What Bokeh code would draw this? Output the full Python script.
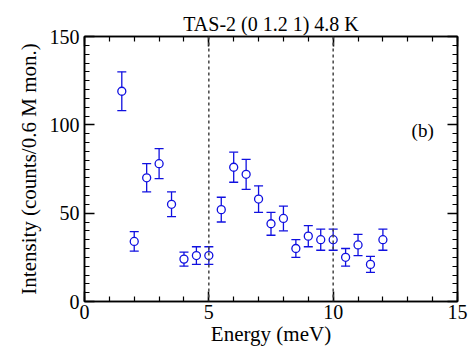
from bokeh.plotting import figure
from bokeh.models import (ColumnDataSource, Whisker, TeeHead, Span, Label,
                          LinearAxis, FixedTicker, Range1d)
from bokeh.embed import file_html
from bokeh.resources import INLINE

energy = [1.5, 2.0, 2.5, 3.0, 3.5, 4.0, 4.5, 5.0, 5.5, 6.0, 6.5, 7.0, 7.5,
          8.0, 8.5, 9.0, 9.5, 10.0, 10.5, 11.0, 11.5, 12.0]
intensity = [119, 34, 70, 78, 55, 24, 26, 26, 52, 76, 72, 58, 44,
             47, 30, 37, 35, 35, 25, 32, 21, 35]
error = [11, 5.5, 8, 8.5, 7, 4, 5, 5, 7, 8.5, 8.5, 7.5, 6.5,
         7, 5, 6, 6, 6, 5, 6, 4.5, 6]
dashed_x = [5, 10]
x_ticks = [0, 5, 10, 15]
y_ticks = [0, 50, 100, 150]

FONT = "Liberation Serif"
BLUE = "#1010e0"

src = ColumnDataSource(dict(
    x=energy, y=intensity,
    lower=[v - e for v, e in zip(intensity, error)],
    upper=[v + e for v, e in zip(intensity, error)],
))

p = figure(width=472, height=349, output_backend="svg", toolbar_location=None,
           x_range=Range1d(0, 15), y_range=Range1d(0, 150),
           title="TAS-2 (0 1.2 1) 4.8 K",
           min_border_left=84, min_border_right=15, min_border_top=36,
           min_border_bottom=48)
p.title.align = "center"
p.title.text_font = FONT
p.title.text_font_size = "20px"
p.title.text_font_style = "normal"
p.title.text_color = "black"
p.title.standoff = 4

p.xgrid.visible = False
p.ygrid.visible = False
p.outline_line_color = "black"
p.outline_line_width = 1.5
p.background_fill_color = "white"
p.border_fill_color = "white"

def style_axis(ax, ticks, minor, labels=True):
    ax.ticker = FixedTicker(ticks=ticks, minor_ticks=minor)
    ax.major_tick_in = 10
    ax.major_tick_out = 0
    ax.minor_tick_in = 5
    ax.minor_tick_out = 0
    ax.axis_line_color = "black"
    ax.axis_line_width = 1.5
    ax.major_tick_line_width = 1.5
    ax.minor_tick_line_width = 1.2
    ax.major_label_text_font = FONT
    ax.major_label_text_font_size = "20px"
    ax.major_label_text_color = "black"
    ax.axis_label_text_font = FONT
    ax.axis_label_text_font_size = "21px"
    ax.axis_label_text_font_style = "normal"
    ax.axis_label_text_color = "black"
    if not labels:
        ax.major_label_text_font_size = "0px"
        ax.major_label_text_alpha = 0

xminor = list(range(0, 16))
yminor = list(range(0, 151, 5))

style_axis(p.xaxis[0], x_ticks, xminor)
style_axis(p.yaxis[0], y_ticks, yminor)
p.xaxis[0].axis_label = "Energy (meV)"
p.yaxis[0].axis_label = "Intensity (counts/0.6 M mon.)"
p.xaxis[0].major_label_standoff = 3
p.xaxis[0].axis_label_standoff = 0
p.yaxis[0].major_label_standoff = 5
p.yaxis[0].axis_label_standoff = 6

top = LinearAxis()
style_axis(top, x_ticks, xminor, labels=False)
p.add_layout(top, "above")
right = LinearAxis()
style_axis(right, y_ticks, yminor, labels=False)
p.add_layout(right, "right")

for xv in dashed_x:
    p.add_layout(Span(location=xv, dimension="height", line_color="#444444",
                      line_dash="3 3", line_width=1.5))

p.add_layout(Whisker(source=src, base="x", lower="lower", upper="upper",
                     line_color=BLUE, line_width=1.3,
                     lower_head=TeeHead(size=9, line_color=BLUE, line_width=1.3),
                     upper_head=TeeHead(size=9, line_color=BLUE, line_width=1.3)))
p.scatter("x", "y", source=src, marker="circle", size=8, fill_color="white",
          line_color=BLUE, line_width=1.3)

p.add_layout(Label(x=13.6, y=97, text="(b)", text_font=FONT,
                   text_font_size="19px", text_align="center",
                   text_baseline="middle", text_color="black"))

open("out.html", "w").write(file_html(p, INLINE))
